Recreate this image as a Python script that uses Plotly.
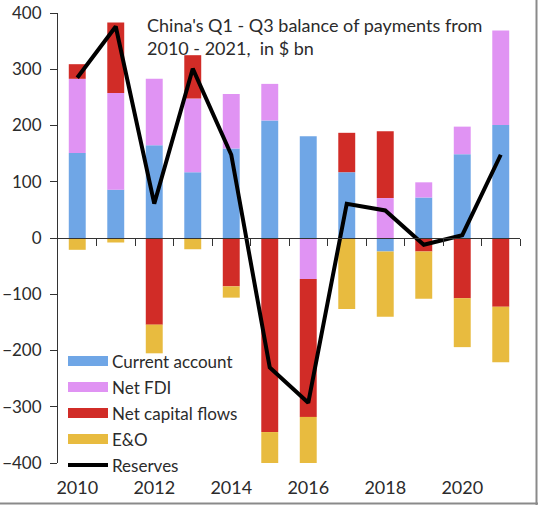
import plotly.graph_objects as go

years = list(range(2010, 2022))
current_account = [151, 86, 165, 117, 159, 209, 181, 117, -24, 72, 149, 201]
net_fdi = [132, 172, 118, 131, 97, 65, -73, 0, 71, 27, 49, 168]
net_capital = [26, 125, -154, 77, -86, -345, -245, 70, 119, -24, -107, -122]
e_and_o = [-21, -8, -51, -20, -20, -55, -82, -126, -116, -84, -87, -99]
reserves = [285, 376, 61, 301, 148, -230, -293, 61, 49, -12, 5, 148]

series_names = ["Current account", "Net FDI", "Net capital flows", "E&O", "Reserves"]
colors = ["#6fa6e6", "#e093f3", "#d12c27", "#e8bb3f", "#000000"]
year_ticks = [2010, 2012, 2014, 2016, 2018, 2020]
y_ticks = [-400, -300, -200, -100, 0, 100, 200, 300, 400]
title_lines = ["China's Q1 - Q3 balance of payments from", "2010 - 2021,  in $ bn"]

FONT = "Lato"
TXT = "#2b2b2b"
W, H = 538, 505
# plot area in window pixels
PX0, PX1, PY0, PY1 = 58, 520, 13, 463
L, R, T, B = PX0, W - PX1, PY0, H - PY1
PW, PH = PX1 - PX0, PY1 - PY0

def px(x):
    return (x - PX0) / PW

def py(y):
    return (PY1 - y) / PH

fig = go.Figure()
for vals, name, col in zip([current_account, net_fdi, net_capital, e_and_o], series_names[:4], colors[:4]):
    fig.add_trace(go.Bar(x=years, y=vals, name=name, marker=dict(color=col, line=dict(width=0)),
                         showlegend=False, xaxis="x", yaxis="y"))
fig.add_trace(go.Scatter(x=years, y=reserves, name=series_names[4], mode="lines",
                         line=dict(color=colors[4], width=4), showlegend=False,
                         xaxis="x2", yaxis="y"))

boundaries = [y + 0.5 for y in years]

fig.update_layout(
    template="none",
    width=W, height=H,
    margin=dict(l=L, r=R, t=T, b=B, pad=0, autoexpand=False),
    paper_bgcolor="white", plot_bgcolor="white",
    barmode="relative", bargap=0.56,
    font=dict(family=FONT, size=17, color=TXT),
    xaxis=dict(range=[2009.5, 2021.5], tickvals=year_ticks, ticktext=[str(v) for v in year_ticks],
               showline=False, showgrid=False, zeroline=False, ticks="", automargin=False,
               tickfont=dict(size=18, color=TXT), ticklabelstandoff=12),
    xaxis2=dict(range=[2009.5, 2021.5], overlaying="x", anchor="free", position=0.5,
                showline=True, linecolor="#333", linewidth=1, showgrid=False, zeroline=False,
                ticks="outside", tickvals=boundaries, ticklen=7, tickcolor="#333", tickwidth=1,
                showticklabels=False, automargin=False),
    yaxis=dict(range=[-400, 400], tickvals=y_ticks, showgrid=False, zeroline=False, automargin=False,
               showline=True, linecolor="#333", linewidth=1, ticks="outside", ticklen=7,
               tickcolor="#333", tickfont=dict(size=17, color=TXT), ticklabelstandoff=5),
    showlegend=False,
)

# title annotation
fig.add_annotation(x=px(145), y=py(12), xref="paper", yref="paper", xanchor="left", yanchor="top",
                   text="<br>".join(title_lines), showarrow=False, align="left",
                   font=dict(family=FONT, size=18, color=TXT))

# custom legend
row_y = [361, 387, 413, 439, 465]
for i, (name, col) in enumerate(zip(series_names, colors)):
    yc = row_y[i]
    if i < 4:
        fig.add_shape(type="rect", xref="paper", yref="paper", x0=px(68), x1=px(108),
                      y0=py(yc + 5), y1=py(yc - 5), fillcolor=col, line=dict(width=0), layer="above")
    else:
        fig.add_shape(type="line", xref="paper", yref="paper", x0=px(68), x1=px(108),
                      y0=py(yc), y1=py(yc), line=dict(color=col, width=4), layer="above")
    fig.add_annotation(x=px(110), y=py(yc), xref="paper", yref="paper", xanchor="left", yanchor="middle",
                       text=name, showarrow=False, font=dict(family=FONT, size=17, color=TXT))

# image frame (right and bottom edges)
fig.add_shape(type="line", xref="paper", yref="paper", x0=px(536.5), x1=px(536.5), y0=py(0), y1=py(505),
              line=dict(color="#8a8a8a", width=2))
fig.add_shape(type="line", xref="paper", yref="paper", x0=px(0), x1=px(538), y0=py(503.5), y1=py(503.5),
              line=dict(color="#8a8a8a", width=2))

fig.write_html("out.html", config={"displayModeBar": False, "staticPlot": True},
               post_script="document.body.style.margin='0';document.body.style.overflow='hidden';")
